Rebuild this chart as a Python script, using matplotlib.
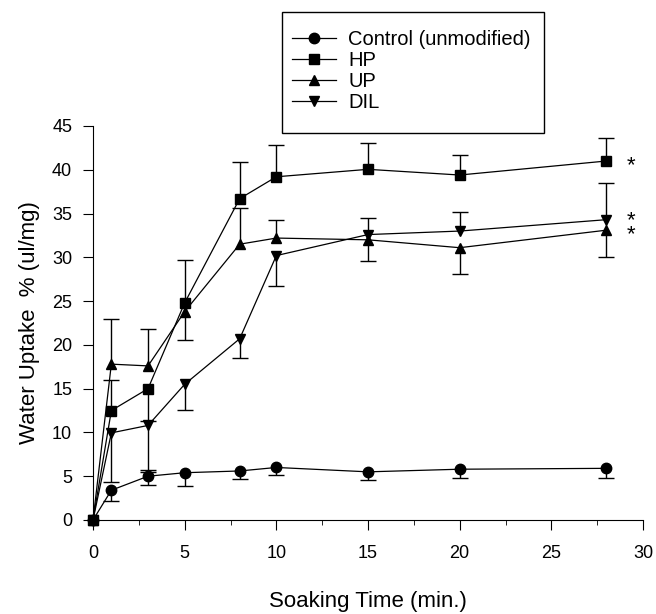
import numpy as np
import matplotlib.pyplot as plt
from matplotlib.patches import Rectangle

plt.rcParams['font.family'] = ['Liberation Sans', 'DejaVu Sans']

time = [0, 1, 3, 5, 8, 10, 15, 20, 28]

control = [0, 3.4, 5.0, 5.4, 5.6, 6.0, 5.5, 5.8, 5.9]
control_hi = [None, None, 5.7, None, None, None, None, None, None]
control_lo = [None, 2.2, 4.0, 3.85, 4.65, 5.1, 4.6, 4.8, 4.85]

hp = [0, 12.5, 15.0, 24.8, 36.7, 39.2, 40.05, 39.4, 41.0]
hp_hi = [None, 16.0, None, 29.7, 40.9, 42.8, 43.1, 41.7, 43.6]
hp_lo = [None, None, 11.3, None, None, None, None, None, None]

up = [0, 17.8, 17.6, 23.8, 31.5, 32.2, 32.0, 31.1, 33.1]
up_hi = [None, 22.9, 21.8, None, 35.6, 34.3, None, None, None]
up_lo = [None, None, None, 20.6, None, None, 29.6, 28.1, 30.0]

dil = [0, 9.95, 10.8, 15.5, 20.7, 30.2, 32.6, 33.0, 34.3]
dil_hi = [None, None, None, None, None, None, 34.5, 35.2, 38.5]
dil_lo = [None, 4.35, 5.5, 12.6, 18.5, 26.7, None, None, None]

labels = ['Control (unmodified)', 'HP', 'UP', 'DIL']
markers = ['o', 's', '^', 'v']
# significance stars right of the last points (HP alone, DIL+UP stacked)
star_hp = 40.8
star_dil_up = 33.4


def bars(ax, vals, hi, lo):
    # one-sided error bars: draw only the ends that exist
    for x, v, h, l in zip(time, vals, hi, lo):
        top = v if h is None else h
        bot = v if l is None else l
        if top == bot:
            continue
        ax.vlines(x, bot, top, color='black', lw=1, clip_on=False)
        for e in (h, l):
            if e is not None:
                ax.plot([x], [e], marker='_', markersize=11, mew=1,
                        color='black', clip_on=False)


fig = plt.figure(figsize=(6.56, 6.14), dpi=100)
ax = fig.add_axes([0.1418, 0.1531, 0.8384, 0.6417])

series = [(control, control_hi, control_lo), (hp, hp_hi, hp_lo),
          (up, up_hi, up_lo), (dil, dil_hi, dil_lo)]
handles = []
for (vals, hi, lo), lab, mk in zip(series, labels, markers):
    bars(ax, vals, hi, lo)
    h, = ax.plot(time, vals, color='black', lw=0.9, marker=mk, markersize=7.5,
                 label=lab, clip_on=False, zorder=3)
    handles.append(h)

ax.text(29.35, star_hp, '*', fontsize=16, ha='center', va='center_baseline')
ax.text(29.35, star_dil_up, '*\n*', fontsize=16, ha='center', va='center',
        linespacing=0.55)

ax.set_xlim(0, 30)
ax.set_ylim(0, 45)
ax.set_xticks(np.arange(0, 31, 5))
ax.set_xticks(np.arange(0, 31, 2.5), minor=True)
ax.set_yticks(np.arange(0, 46, 5))
ax.spines['top'].set_visible(False)
ax.spines['right'].set_visible(False)
ax.tick_params(which='major', direction='out', length=7, labelsize=13)
ax.tick_params(which='minor', direction='out', length=3.5)
ax.tick_params(axis='x', pad=11)
ax.tick_params(axis='y', pad=8)
ax.set_xlabel('Soaking Time (min.)', fontsize=16, labelpad=21)
ax.set_ylabel('Water Uptake  % (ul/mg)', fontsize=16, labelpad=9)

leg = fig.legend(handles=handles, loc='upper left', bbox_to_anchor=(292 / 656, 1 - 30 / 614),
                 fontsize=14.5, frameon=False, borderpad=0, borderaxespad=0,
                 handlelength=2.2, handletextpad=0.6, labelspacing=0.1)
# legend frame with taller top/bottom padding, as in the original
fig.patches.append(Rectangle((282 / 656, 1 - 133 / 614), 262 / 656, 121 / 614,
                             transform=fig.transFigure, fill=False,
                             edgecolor='black', lw=1))

fig.savefig('out.png', dpi=100)
